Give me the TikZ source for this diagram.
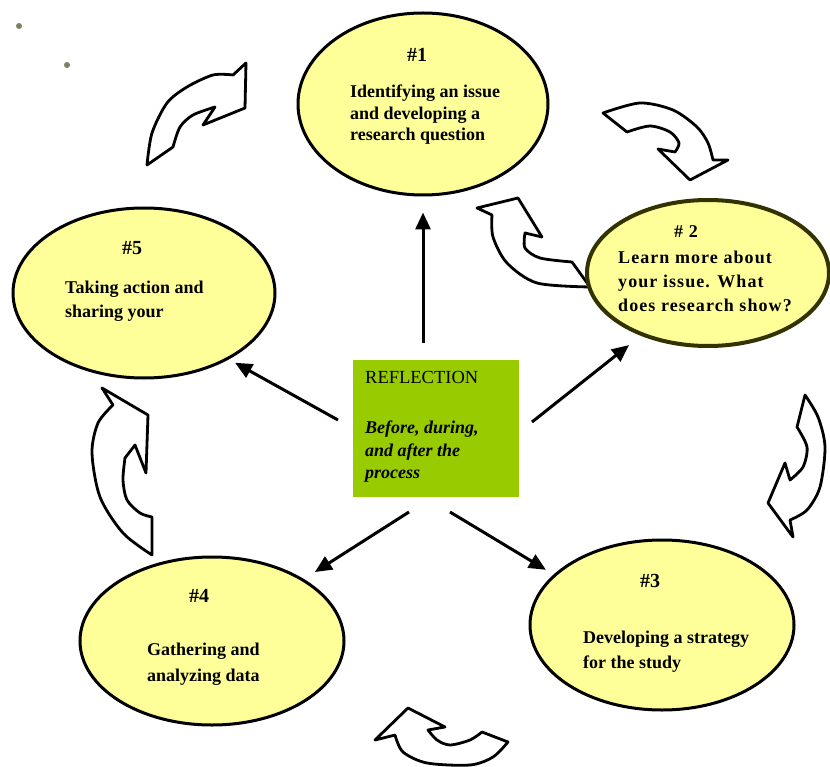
\documentclass[tikz,border=0pt]{standalone}
\usepackage{fontspec}
\setmainfont{Liberation Serif}
\newfontfamily\spaced[LetterSpace=6]{Liberation Serif}
\usetikzlibrary{shapes.geometric,arrows.meta}
\definecolor{bubblefill}{HTML}{FFFF99}
\definecolor{hubgreen}{HTML}{99CC00}
\definecolor{olive}{HTML}{333300}
\definecolor{dotgray}{HTML}{808060}

\begin{document}
\begin{tikzpicture}[x=1pt,y=-1pt,
    bubble/.style={ellipse, draw, fill=bubblefill, line width=3pt, inner sep=0pt},
    hub/.style={rectangle, fill=hubgreen, inner sep=0pt, minimum width=166pt, minimum height=137pt},
    spoke/.style={line width=3pt, -{Triangle[length=17pt,width=15pt]}},
    curl/.style={draw, fill=white, line width=2.8pt, line join=round},
    numlbl/.style={anchor=base, inner sep=0pt, font=\bfseries\fontsize{20}{24}\selectfont},
    body/.style={anchor=north west, align=left, inner sep=0pt, font=\bfseries\fontsize{18}{#1}\selectfont},
    body/.default=24]
  \path[fill=white, use as bounding box] (0,0) rectangle (830,767);
  % bullets
  \fill[dotgray] (19,26) circle[radius=3pt];
  \fill[dotgray] (67,65) circle[radius=3pt];
  % curved arrows
  \draw[curl] plot[smooth] coordinates {(147,165) (152,133) (167,103) (187,87) (213,75) (233,75)}
    -- (246,63) -- (245,108) -- (203,125)
    -- plot[smooth] coordinates {(215,107) (193,115) (180,127) (173,147)} -- cycle;
  \draw[curl] plot[smooth] coordinates {(603,113) (640,103) (673,110) (697,127) (708,143) (713,160)}
    -- (728,160) -- (690,180) -- (658,149)
    -- plot[smooth] coordinates {(675,152) (679,143) (670,132) (650,126) (627,132)} -- cycle;
  \draw[curl] plot[smooth] coordinates {(590,287) (537,283) (507,263) (493,237) (492,215)}
    -- (477,208) -- (518,198) -- (542,237)
    -- plot[smooth] coordinates {(525,233) (525,248) (540,258) (572,262)} -- cycle;
  \draw[curl] plot[smooth] coordinates {(805,395) (818,417) (825,447) (820,487) (807,510) (790,520)}
    -- (793,537) -- (768,503) -- (785,463)
    -- plot[smooth] coordinates {(790,480) (803,467) (807,447) (797,427)} -- cycle;
  \draw[curl] plot[smooth] coordinates {(508,742) (493,757) (470,765) (427,763) (403,752) (395,735)}
    -- (375,740) -- (408,708) -- (445,727)
    -- plot[smooth] coordinates {(428,730) (437,740) (450,745) (470,740) (482,732)} -- cycle;
  \draw[curl] plot[smooth] coordinates {(152,555) (123,533) (100,497) (92,453) (98,423) (113,405)}
    -- (102,388) -- (148,415) -- (146,473) -- (135,445)
    -- plot[smooth] coordinates {(125,458) (123,480) (127,500) (140,513) (152,517)} -- cycle;
  % stages
  \node[bubble, minimum width=250pt, minimum height=182pt] (e1) at (423,104) {};
  \node[bubble, draw=olive, line width=4pt, minimum width=242pt, minimum height=146pt] (e2) at (708,273) {};
  \node[bubble, minimum width=264pt, minimum height=170pt] (e3) at (662,625) {};
  \node[bubble, minimum width=264pt, minimum height=168pt] (e4) at (212,641) {};
  \node[bubble, minimum width=262pt, minimum height=170pt] (e5) at (144,293) {};
  \node[numlbl] (n1) at (417,62) {\#1};
  \node[numlbl, font=\spaced\bfseries\fontsize{18}{22}\selectfont] (n2) at (686,238) {\# 2};
  \node[numlbl] (n3) at (650,587) {\#3};
  \node[numlbl] (n4) at (199,602) {\#4};
  \node[numlbl] (n5) at (132,255) {\#5};
  \node[body=21.5] (t1) at (350,85) {Identifying an issue\\and developing a\\research question};
  \node[body, font=\spaced\bfseries\fontsize{18}{24}\selectfont] (t2) at (618,251) {Learn more about\\your issue. What\\does research show?};
  \node[body=25] (t3) at (583,631) {Developing a strategy\\for the study};
  \node[body=26] (t4) at (147,643) {Gathering and\\analyzing data};
  \node[body] (t5) at (65,281) {Taking action and\\sharing your};
  % centre
  \node[hub] (refl) at (436,428.5) {};
  \node[anchor=base west, inner sep=0pt, font=\fontsize{18.5}{22}\selectfont] (reflhead) at (365,383) {REFLECTION};
  \node[body=22.5, font=\bfseries\itshape\fontsize{18}{22.5}\selectfont] (reflnote) at (365,421) {Before, during,\\and after the\\process};
  % spokes
  \coordinate (s1) at (423,343);
  \coordinate (s2) at (532,422);
  \coordinate (s3) at (450,512);
  \coordinate (s4) at (409,512);
  \coordinate (s5) at (338,420);
  \draw[spoke, shorten >=16pt] (s1) -- (e1.south);
  \draw[spoke, shorten >=15pt] (s2) -- (e2.223.5);
  \draw[spoke, shorten >=9pt] (s3) -- (e3.155.3);
  \draw[spoke, shorten >=13pt] (s4) -- (e4.34.3);
  \draw[spoke, shorten >=7pt] (s5) -- (e5.-38);
\end{tikzpicture}
\end{document}
